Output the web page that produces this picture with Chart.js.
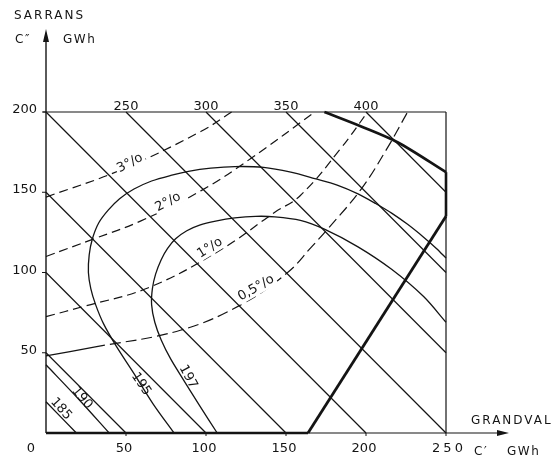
<!DOCTYPE html>
<html>
<head>
<meta charset="utf-8">
<script src="https://cdn.jsdelivr.net/npm/chart.js@4"></script>
<style>
  html, body { margin: 0; padding: 0; background: #fff; }
  canvas { display: block; }
</style>
</head>
<body>
<canvas id="chart" width="554" height="458"></canvas>
<script>
// totals C' + C'' (GWh) of the diagonal lines
const totals = [50, 100, 150, 200, 250, 300, 350, 400];
const topLabels = ['250', '300', '350', '400'];
const xTicks = [0, 50, 100, 150, 200, 250];
const yTicks = [50, 100, 150, 200];

// iso-curves, points as [C', C'']
const iso185 = [[0, 19.5], [19, 0]];
const iso190 = [[0, 42.5], [20, 21.5], [39.5, 0]];
const iso195 = [[80, 0], [67, 18], [55, 37], [44, 54], [36, 68], [31, 80], [28, 90], [26.5, 100],
  [27, 111], [29, 121], [33, 131], [39, 139], [46, 146], [55, 152], [66, 157], [78, 160.5],
  [89, 163], [103, 165], [118, 166], [136, 165.5], [153, 162.5], [168, 158.5], [182, 154.5],
  [195, 149], [206, 143], [216, 137], [226, 130], [236, 122], [244, 115], [250, 109]];
const iso197 = [[107, 0], [96, 17], [86, 33], [78, 46], [72, 58], [68, 69], [66, 80], [66.5, 90],
  [68.5, 99], [72, 108], [76, 115], [81, 121], [88, 126], [96, 129.5], [106, 132], [118, 134],
  [131, 135], [143, 134.7], [159, 132.5], [174, 127], [195, 116], [216, 102], [236, 85], [250, 69]];

// percentage curves
const pct3 = [[0, 147], [47, 164], [97, 188], [116, 200]];
const pct2 = [[0, 110], [30, 121], [59, 132], [97, 151], [128, 171], [168, 200]];
const pct1 = [[0, 72.5], [24, 79], [64, 90.5], [109, 114], [143, 137.5], [159, 148], [184, 177], [201, 200]];
const pct05 = [[0, 48], [30, 53.5], [84, 64], [122, 80], [151, 100], [166, 116], [176, 127],
  [197, 152], [213, 177], [226, 200]];

// limit of the domain (heavy lines)
const limitCurve = [[174, 200], [197, 191], [220, 181], [250, 162.5]];
const limitLine = [[163.75, 0], [250, 135]];

const pctLabels = ['3°/o', '2°/o', '1°/o', '0,5°/o'];
const isoLabels = ['197', '195', '190', '185'];

const ink = '#141414';
const pts = arr => arr.map(([x, y]) => ({ x, y }));

function diagonal(c) {
  return [{ x: Math.max(0, c - 200), y: Math.min(200, c) }, { x: Math.min(250, c), y: Math.max(0, c - 250) }];
}

const datasets = [];
totals.forEach(c => datasets.push({ data: diagonal(c), borderWidth: 1.2, tension: 0 }));
[iso185, iso190, iso195, iso197].forEach(a => datasets.push({ data: pts(a), borderWidth: 1.3, tension: 0.3 }));
[pct3, pct2, pct1].forEach(a => datasets.push({ data: pts(a), borderWidth: 1.2, tension: 0.4, borderDash: [9, 5] }));
datasets.push({
  data: pts(pct05), borderWidth: 1.2, tension: 0.4,
  segment: { borderDash: ctx => ctx.p0DataIndex === 0 ? [] : [11, 5] }
});
datasets.push({ data: pts(limitCurve), borderWidth: 2.6, tension: 0.3 });
datasets.push({ data: pts(limitLine), borderWidth: 2.8, tension: 0 });
datasets.forEach(d => {
  d.showLine = true;
  d.borderColor = ink;
  d.pointRadius = 0;
  d.fill = false;
  d.clip = false;
});

function line(ctx, x1, y1, x2, y2, w) {
  ctx.lineWidth = w;
  ctx.beginPath();
  ctx.moveTo(x1, y1);
  ctx.lineTo(x2, y2);
  ctx.stroke();
}

function rotText(ctx, txt, cx, cy, deg, bg) {
  ctx.save();
  ctx.translate(cx, cy);
  ctx.rotate(deg * Math.PI / 180);
  ctx.textAlign = 'center';
  ctx.textBaseline = 'middle';
  if (bg) {
    const w = ctx.measureText(txt).width;
    ctx.fillStyle = '#fff';
    ctx.fillRect(-w / 2 - 2, -7, w + 4, 14);
    ctx.fillStyle = ink;
  }
  ctx.fillText(txt, 0, 0);
  ctx.restore();
}

const frame = {
  id: 'frame',
  afterDatasetsDraw(chart) {
    const { ctx, scales: { x, y } } = chart;
    const px = v => x.getPixelForValue(v);
    const py = v => y.getPixelForValue(v);
    ctx.save();
    ctx.strokeStyle = ink;
    ctx.fillStyle = ink;

    // frame
    line(ctx, px(0) - 3, py(200), px(250), py(200), 1.2);
    line(ctx, px(250), py(200), px(250), py(0), 1.2);
    line(ctx, px(250), py(162.5), px(250), py(135), 2.6);
    // axes with arrows
    line(ctx, px(0), py(0), px(0), 40, 1.4);
    ctx.beginPath();
    ctx.moveTo(px(0), 29); ctx.lineTo(px(0) - 3, 42); ctx.lineTo(px(0) + 3, 42); ctx.closePath(); ctx.fill();
    line(ctx, px(0), py(0), 500, py(0), 1.1);
    line(ctx, px(0), py(0), px(limitLine[0][0]), py(0), 2.6);
    ctx.beginPath();
    ctx.moveTo(509, py(0)); ctx.lineTo(497, py(0) - 3); ctx.lineTo(497, py(0) + 3); ctx.closePath(); ctx.fill();

    // ticks
    yTicks.forEach(v => line(ctx, px(0) - 4, py(v), px(0), py(v), 1));
    xTicks.slice(1).forEach(v => line(ctx, px(v), py(0), px(v), py(0) + 3, 1));

    ctx.font = '13px "DejaVu Sans"';
    // y tick labels
    ctx.textAlign = 'right';
    ctx.textBaseline = 'alphabetic';
    yTicks.forEach(v => ctx.fillText(String(v), 37, py(v) + 1));
    // x tick labels
    ctx.textAlign = 'center';
    xTicks.forEach(v => {
      if (v === 0) { ctx.fillText('0', px(0) - 15, 452); return; }
      if (v === 250) { ctx.letterSpacing = '3px'; ctx.fillText('250', px(v) + 3, 452); ctx.letterSpacing = '0px'; return; }
      ctx.fillText(String(v), px(v) - 2, 452);
    });
    // top labels (totals)
    topLabels.forEach(t => ctx.fillText(t, px(Number(t) - 200), 110));

    // axis titles
    ctx.textAlign = 'left';
    ctx.font = '12px "DejaVu Sans"';
    ctx.letterSpacing = '2px';
    ctx.fillText('SARRANS', 14, 19);
    ctx.fillText('GRANDVAL', 471, 424);
    ctx.letterSpacing = '1.5px';
    ctx.fillText('C″', 15, 43);
    ctx.fillText('GWh', 63, 43);
    ctx.fillText('C′', 474, 455);
    ctx.fillText('GWh', 507, 455);
    ctx.letterSpacing = '0px';

    // curve labels
    ctx.font = '13px "DejaVu Sans"';
    const pctPos = [[52.5, 168.2, -28], [76.3, 143.9, -28], [102.5, 115.3, -32], [131.3, 90.3, -30]];
    pctLabels.forEach((t, i) => rotText(ctx, t, px(pctPos[i][0]), py(pctPos[i][1]), pctPos[i][2], true));
    const isoPos = [[88.8, 34.9, 62], [59.4, 30.5, 56], [22.5, 21.8, 50], [9.4, 15, 48]];
    isoLabels.forEach((t, i) => rotText(ctx, t, px(isoPos[i][0]), py(isoPos[i][1]), isoPos[i][2], false));

    ctx.restore();
  }
};

new Chart(document.getElementById('chart'), {
  type: 'scatter',
  data: { datasets },
  options: {
    responsive: false,
    animation: false,
    devicePixelRatio: 1,
    layout: { padding: { left: 46, right: 108, top: 112, bottom: 25 } },
    scales: {
      x: { type: 'linear', min: 0, max: 250, display: false },
      y: { type: 'linear', min: 0, max: 200, display: false }
    },
    plugins: { legend: { display: false }, tooltip: { enabled: false } }
  },
  plugins: [frame]
});
</script>
</body>
</html>
